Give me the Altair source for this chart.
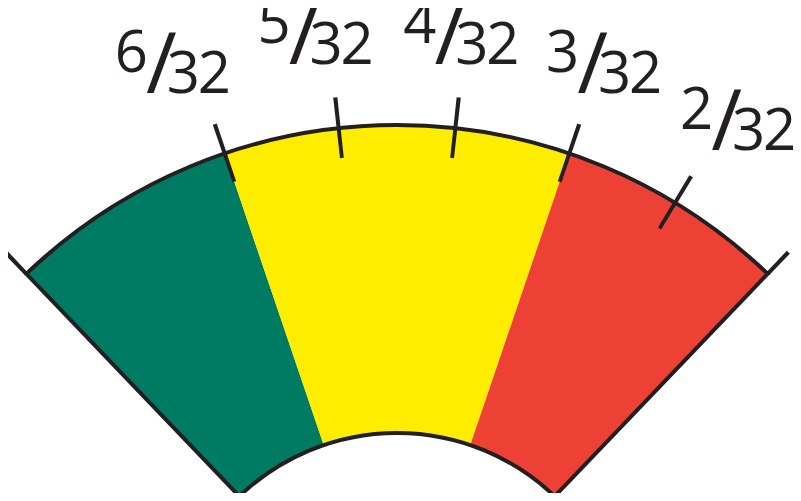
import altair as alt
import pandas as pd

# scale is in 32nds, running from 8/32 (left end) to 1/32 (right end)
band_names = ["green", "yellow", "red"]
band_start = [8, 6, 3]
band_end = [6, 3, 1]
band_colors = ["#007B63", "#FFED00", "#EE4136"]

tick_values = [6, 5, 4, 3, 2]
tick_numerators = ["6", "5", "4", "3", "2"]
tick_denominators = ["32", "32", "32", "32", "32"]
end_values = [8, 1]

INK = "#231F20"
CX, CY = 389, 653          # gauge centre inside the view
R_OUT, R_IN = 536, 228
DEG_PER_UNIT = 12.5
MID = 4.5

# labels sit on their own, flatter circle
LX, LY = 369, 754
R_LABEL = 727
LABEL_DEG_PER_UNIT = 11.5

ang = f"(({MID} - datum.v) * {DEG_PER_UNIT}) * PI / 180"

bands = pd.DataFrame({"name": band_names, "s": band_start, "e": band_end})
ticks = pd.DataFrame({"v": tick_values, "num": tick_numerators, "den": tick_denominators})
ends = pd.DataFrame({"v": end_values})
outline = pd.DataFrame({"s": [band_start[0]], "e": [band_end[-1]]})

pos = dict(x=alt.value(CX), y=alt.value(CY))
lpos = dict(x=alt.value(LX), y=alt.value(LY))

band_layer = alt.Chart(bands).transform_calculate(
    a0=f"(({MID} - datum.s) * {DEG_PER_UNIT}) * PI / 180",
    a1=f"(({MID} - datum.e) * {DEG_PER_UNIT}) * PI / 180",
).mark_arc(strokeWidth=0).encode(
    theta=alt.Theta("a0:Q", scale=None, stack=None),
    theta2="a1:Q",
    radius=alt.value(R_OUT),
    radius2=alt.value(R_IN),
    color=alt.Color("name:N", scale=alt.Scale(domain=band_names, range=band_colors), legend=None),
    **pos,
)

outline_layer = alt.Chart(outline).transform_calculate(
    a0=f"(({MID} - datum.s) * {DEG_PER_UNIT}) * PI / 180",
    a1=f"(({MID} - datum.e) * {DEG_PER_UNIT}) * PI / 180",
).mark_arc(fillOpacity=0, stroke=INK, strokeWidth=4).encode(
    theta=alt.Theta("a0:Q", scale=None, stack=None),
    theta2="a1:Q",
    radius=alt.value(R_OUT),
    radius2=alt.value(R_IN),
    **pos,
)

HALF = 2.0 / 536

tick_layer = alt.Chart(ticks).transform_calculate(
    a0=f"{ang} - {HALF}",
    a1=f"{ang} + {HALF}",
).mark_arc(fill=INK, strokeWidth=0).encode(
    theta=alt.Theta("a0:Q", scale=None, stack=None),
    theta2="a1:Q",
    radius=alt.value(567),
    radius2=alt.value(506),
    **pos,
)

end_layer = alt.Chart(ends).transform_calculate(
    a0=f"{ang} - {HALF}",
    a1=f"{ang} + {HALF}",
).mark_arc(fill=INK, strokeWidth=0).encode(
    theta=alt.Theta("a0:Q", scale=None, stack=None),
    theta2="a1:Q",
    radius=alt.value(566),
    radius2=alt.value(R_OUT),
    **pos,
)

label_base = alt.Chart(ticks).transform_calculate(
    la=f"(({MID} - datum.v) * {LABEL_DEG_PER_UNIT}) * PI / 180",
    d1="substring(datum.den, 0, 1)",
    d2="substring(datum.den, 1, 2)",
    sl="'/'",
)


def label_part(field, size, dx, dy):
    return label_base.mark_text(
        font="Open Sans", fontSize=size, color=INK, align="center",
        baseline="middle", dx=dx, dy=dy,
    ).encode(
        text=alt.Text(f"{field}:N"),
        theta=alt.Theta("la:Q", scale=None, stack=None),
        radius=alt.value(R_LABEL),
        **lpos,
    )


num_layer = label_part("num", 58, -30, -13)
d1_layer = label_part("d1", 58, 22, 8)
d2_layer = label_part("d2", 58, 53, 8)
slash_layer = label_part("sl", 84, 0, 0)

chart = alt.layer(
    band_layer, outline_layer, tick_layer, end_layer,
    num_layer, slash_layer, d1_layer, d2_layer,
).properties(
    width=785, height=485, padding=0,
    autosize=alt.AutoSizeParams(type="none"),
).configure_view(stroke=None)

chart.save("out.html", embed_options={"renderer": "svg", "actions": False})
